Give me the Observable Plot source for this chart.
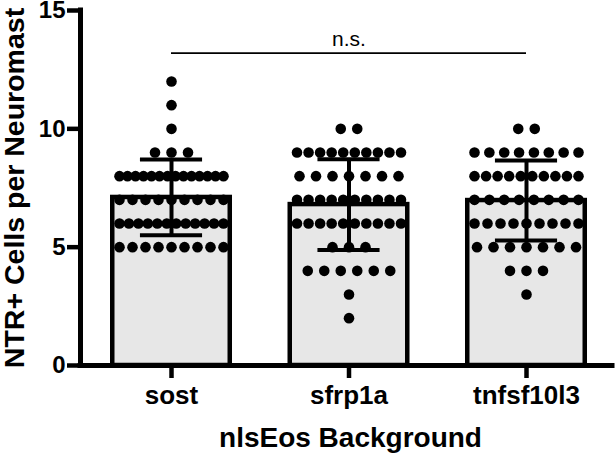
<!DOCTYPE html>
<html>
<head>
<meta charset="utf-8">
<script src="https://cdn.jsdelivr.net/npm/d3@7"></script>
<script src="https://cdn.jsdelivr.net/npm/@observablehq/plot@0.6"></script>
<style>
  html, body { margin: 0; padding: 0; background: #fff; }
</style>
</head>
<body>
<div id="chart"></div>
<script>
// ---- data ----
const groups = ["sost", "sfrp1a", "tnfsf10l3"];
const sostValues = [12, 11, 10, 9, 9, 9,
  8, 8, 8, 8, 8, 8, 8, 8, 8, 8, 8, 8, 8, 8,
  7, 7, 7, 7, 7, 7, 7, 7, 7,
  6, 6, 6, 6, 6, 6, 6, 6, 6, 6, 6, 6,
  5, 5, 5, 5, 5, 5, 5, 5, 5];
const sfrp1aValues = [10, 10,
  9, 9, 9, 9, 9, 9, 9, 9, 9, 9,
  8, 8, 8, 8, 8, 8, 8,
  7, 7, 7, 7, 7, 7, 7, 7, 7, 7,
  6, 6, 6, 6, 6, 6, 6, 6, 6, 6,
  5, 5, 5,
  4, 4, 4, 4, 4, 4,
  3, 2];
const tnfsf10l3Values = [10, 10,
  9, 9, 9, 9, 9, 9, 9, 9,
  8, 8, 8, 8, 8, 8, 8, 8, 8, 8,
  7, 7, 7, 7, 7, 7, 7, 7,
  6, 6, 6, 6, 6, 6, 6, 6, 6,
  5, 5, 5, 5, 5, 5, 5,
  4, 4, 4,
  3];
const means = [7.1, 6.8, 6.97];
const sds = [1.6, 1.92, 1.69];
const yTicks = [0, 5, 10, 15];
const sigPair = ["sost", "tnfsf10l3"];
const sigY = 13.2;
const sigLabel = "n.s.";
const xTitle = "nlsEos Background";
const yTitle = "NTR+ Cells per Neuromast";

// ---- layout ----
const W = 615, H = 456;
const mL = 80, mR = 3, mT = 10, mB = 91;
const xDomain = [-0.5127, 2.4845];
const pxPerUnit = (W - mR - mL) / (xDomain[1] - xDomain[0]);
const font = "'Liberation Sans', Arial, Helvetica, sans-serif";

const allValues = [sostValues, sfrp1aValues, tnfsf10l3Values];
const bars = groups.map((g, i) => ({i, g, mean: means[i], lo: means[i] - sds[i], hi: means[i] + sds[i]}));

function spread(vals, gi) {
  const rows = d3.group(vals, v => v);
  const out = [];
  for (const [v, arr] of rows) {
    const n = arr.length;
    const step = n > 1 ? Math.min(16.5, 104 / (n - 1)) : 0;
    arr.forEach((_, k) => out.push({x: gi + (k - (n - 1) / 2) * step / pxPerUnit, y: v}));
  }
  return out;
}
const dots = allValues.flatMap((vals, i) => spread(vals, i));

const halfBar = 0.331;
const capHalf = 0.175;
const sigIdx = sigPair.map(g => groups.indexOf(g));

const chart = Plot.plot({
  width: W,
  height: H,
  marginLeft: mL,
  marginRight: mR,
  marginTop: mT,
  marginBottom: mB,
  style: {fontFamily: font, background: "#fff", overflow: "visible", color: "black"},
  x: {domain: xDomain},
  y: {domain: [0, 15]},
  marks: [
    Plot.rectY(bars, {x1: d => d.i - halfBar, x2: d => d.i + halfBar, y1: 0, y2: "mean", fill: "#e7e7e7", stroke: "black", strokeWidth: 4.5}),
    Plot.dot(dots, {x: "x", y: "y", r: 5.3, fill: "black", stroke: null}),
    Plot.ruleX(bars, {x: "i", y1: "lo", y2: "hi", stroke: "black", strokeWidth: 4}),
    Plot.ruleY(bars, {x1: d => d.i - capHalf, x2: d => d.i + capHalf, y: "lo", stroke: "black", strokeWidth: 4}),
    Plot.ruleY(bars, {x1: d => d.i - capHalf, x2: d => d.i + capHalf, y: "hi", stroke: "black", strokeWidth: 4}),
    Plot.ruleY([sigY], {x1: sigIdx[0], x2: sigIdx[1], stroke: "black", strokeWidth: 1.8}),
    Plot.text([sigLabel], {x: (sigIdx[0] + sigIdx[1]) / 2, y: sigY, text: d => d, dy: -7, lineAnchor: "bottom", fontSize: 21, fill: "black"}),
    Plot.ruleX([xDomain[0]], {stroke: "black", strokeWidth: 5, strokeLinecap: "square"}),
    Plot.ruleY([0], {stroke: "black", strokeWidth: 5, strokeLinecap: "square"}),
    Plot.axisY(yTicks, {tickSize: 13, tickPadding: 2, strokeWidth: 4.5, stroke: "black", fill: "black", fontSize: 24, fontWeight: 900, label: null}),
    Plot.axisX([0, 1, 2], {tickFormat: i => groups[i], tickSize: 13, tickPadding: 7, strokeWidth: 4.5, stroke: "black", fontSize: 26, fontWeight: "bold", label: null, fill: "black"}),
    Plot.text([yTitle], {frameAnchor: "left", dx: -66, rotate: -90, text: d => d, lineAnchor: "middle", textAnchor: "middle", fontSize: 28.5, fontWeight: "bold", fill: "black"}),
    Plot.text([xTitle], {frameAnchor: "bottom", dx: 4, dy: 73, text: d => d, lineAnchor: "middle", textAnchor: "middle", fontSize: 28, fontWeight: "bold", fill: "black"})
  ]
});
document.getElementById("chart").appendChild(chart);
</script>
</body>
</html>
